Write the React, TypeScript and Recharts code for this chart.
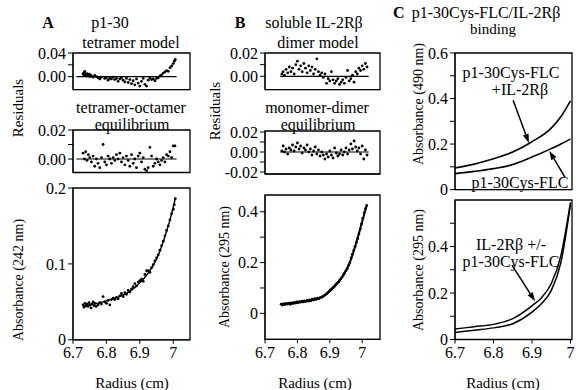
import { ComposedChart, Scatter, Line, XAxis, YAxis, ReferenceArea, ReferenceLine } from "recharts"

const FONT = "Liberation Serif"

type Pt = [number, number]

const radiusTicks = [6.7, 6.8, 6.9, 7]

// panel A: p1-30
const aTetramerResid: Pt[] = [
  [6.73, 0.005], [6.732, 0.003], [6.734, 0.006], [6.735, 0.009], [6.736, 0.002], [6.738, 0.004], [6.74, 0.001],
  [6.742, 0.005], [6.744, 0.003], [6.746, 0.002], [6.748, 0.004], [6.75, 0.0], [6.752, 0.003], [6.755, 0.001],
  [6.76, -0.001], [6.765, 0.002], [6.77, 0.0], [6.775, -0.002], [6.78, -0.004], [6.785, -0.001], [6.795, -0.003],
  [6.8, -0.002], [6.805, -0.006], [6.81, -0.003], [6.815, -0.004], [6.82, -0.001], [6.825, -0.005], [6.83, -0.003],
  [6.835, -0.008], [6.84, -0.004], [6.845, -0.002], [6.85, -0.006], [6.855, -0.009], [6.86, -0.003], [6.865, -0.01],
  [6.87, -0.005], [6.875, -0.012], [6.88, -0.007], [6.885, -0.014], [6.89, -0.004], [6.895, -0.011], [6.9, -0.016],
  [6.905, -0.008], [6.91, -0.003], [6.915, -0.013], [6.92, -0.016], [6.925, -0.006], [6.93, -0.002], [6.935, -0.005],
  [6.94, -0.004], [6.945, -0.007], [6.95, -0.003], [6.955, -0.002], [6.96, 0.001], [6.965, 0.003], [6.97, 0.006],
  [6.975, 0.008], [6.98, 0.01], [6.985, 0.009], [6.99, 0.015], [6.995, 0.018], [7.0, 0.022], [7.003, 0.026], [7.006, 0.029],
]
const aOctamerResid: Pt[] = [
  [6.73, 0.004], [6.734, 0.0], [6.738, 0.005], [6.742, -0.001], [6.746, 0.003], [6.75, 0.001], [6.755, -0.002],
  [6.76, 0.002], [6.765, -0.005], [6.77, 0.0], [6.775, -0.003], [6.78, -0.006], [6.785, 0.001], [6.79, 0.01],
  [6.795, -0.002], [6.8, -0.004], [6.805, 0.002], [6.81, 0.0], [6.815, -0.003], [6.82, 0.001], [6.825, -0.001],
  [6.83, 0.003], [6.835, 0.0], [6.84, 0.004], [6.845, -0.002], [6.85, 0.001], [6.855, -0.004], [6.86, 0.002],
  [6.865, -0.001], [6.87, -0.005], [6.875, 0.003], [6.88, -0.003], [6.885, 0.0], [6.89, -0.006], [6.895, 0.002],
  [6.9, 0.004], [6.905, -0.002], [6.91, 0.001], [6.915, -0.007], [6.92, -0.008], [6.925, -0.006], [6.93, 0.008],
  [6.935, 0.002], [6.94, -0.005], [6.945, -0.003], [6.95, 0.0], [6.955, -0.002], [6.96, -0.004], [6.965, -0.001],
  [6.97, 0.001], [6.975, -0.002], [6.98, 0.003], [6.985, 0.002], [6.99, 0.005], [6.995, 0.001], [7.0, 0.009], [7.005, 0.009],
]
const aAbsorbance: Pt[] = [
  [6.73, 0.046], [6.733, 0.043], [6.736, 0.048], [6.739, 0.045], [6.742, 0.047], [6.745, 0.044], [6.748, 0.049],
  [6.751, 0.046], [6.754, 0.042], [6.757, 0.047], [6.76, 0.05], [6.763, 0.045], [6.766, 0.048], [6.769, 0.044],
  [6.775, 0.046], [6.78, 0.049], [6.785, 0.047], [6.79, 0.057], [6.795, 0.05], [6.8, 0.048], [6.805, 0.052],
  [6.81, 0.046], [6.815, 0.053], [6.82, 0.055], [6.825, 0.053], [6.83, 0.056], [6.835, 0.054], [6.84, 0.058],
  [6.845, 0.061], [6.85, 0.057], [6.855, 0.062], [6.86, 0.06], [6.865, 0.065], [6.87, 0.063], [6.875, 0.067],
  [6.88, 0.07], [6.885, 0.074], [6.89, 0.071], [6.895, 0.076], [6.9, 0.078], [6.905, 0.08], [6.91, 0.077],
  [6.915, 0.086], [6.92, 0.091], [6.925, 0.091], [6.93, 0.089], [6.935, 0.095], [6.94, 0.099], [6.945, 0.104],
  [6.95, 0.108], [6.955, 0.112], [6.96, 0.118], [6.965, 0.124], [6.97, 0.13], [6.975, 0.137], [6.98, 0.144],
  [6.985, 0.15], [6.99, 0.158], [6.995, 0.166], [7.0, 0.172], [7.003, 0.178], [7.006, 0.186],
]
const aFit: Pt[] = [
  [6.73, 0.045], [6.76, 0.047], [6.79, 0.05], [6.82, 0.054], [6.85, 0.059], [6.88, 0.067], [6.9, 0.075],
  [6.92, 0.085], [6.94, 0.098], [6.96, 0.117], [6.98, 0.143], [6.99, 0.158], [7.0, 0.175], [7.006, 0.186],
]

// panel B: soluble IL-2Rβ
const bDimerResid: Pt[] = [
  [6.752, 0.002], [6.756, 0.004], [6.76, 0.001], [6.765, 0.006], [6.77, 0.003], [6.775, 0.008], [6.78, 0.004],
  [6.785, 0.007], [6.79, 0.002], [6.795, 0.01], [6.8, 0.013], [6.805, 0.006], [6.81, 0.009], [6.815, 0.004],
  [6.82, 0.011], [6.825, 0.007], [6.83, 0.003], [6.835, 0.009], [6.84, 0.005], [6.845, 0.008], [6.85, 0.002],
  [6.855, 0.006], [6.86, 0.015], [6.865, 0.004], [6.87, 0.001], [6.875, 0.003], [6.88, -0.001], [6.885, 0.002],
  [6.89, -0.006], [6.895, -0.002], [6.9, -0.004], [6.905, 0.004], [6.91, -0.003], [6.915, -0.006], [6.92, -0.004],
  [6.925, -0.002], [6.93, -0.007], [6.935, -0.005], [6.94, -0.003], [6.945, -0.006], [6.95, -0.001], [6.955, 0.005],
  [6.96, -0.004], [6.965, -0.002], [6.97, 0.001], [6.975, -0.005], [6.98, 0.004], [6.985, 0.002], [6.99, 0.007],
  [6.995, 0.005], [7.0, 0.009], [7.005, 0.006], [7.01, 0.011], [7.015, 0.008],
]
const bMonomerResid: Pt[] = [
  [6.752, 0.001], [6.756, 0.006], [6.76, 0.0], [6.765, 0.003], [6.77, -0.002], [6.775, 0.004], [6.78, 0.002],
  [6.785, 0.007], [6.79, 0.001], [6.795, 0.005], [6.8, 0.009], [6.805, 0.003], [6.81, 0.006], [6.815, -0.001],
  [6.82, 0.004], [6.825, 0.002], [6.83, 0.007], [6.835, 0.0], [6.84, 0.003], [6.845, -0.003], [6.85, 0.001],
  [6.855, 0.005], [6.86, -0.002], [6.865, 0.002], [6.87, -0.004], [6.875, 0.0], [6.88, -0.003], [6.885, -0.007],
  [6.89, -0.002], [6.895, -0.005], [6.9, 0.001], [6.905, -0.003], [6.91, -0.006], [6.915, 0.004], [6.92, -0.001],
  [6.925, -0.004], [6.93, -0.002], [6.935, 0.002], [6.94, -0.003], [6.945, 0.0], [6.95, 0.004], [6.955, -0.002],
  [6.96, 0.002], [6.965, 0.008], [6.97, 0.003], [6.975, 0.011], [6.98, 0.005], [6.985, 0.001], [6.99, 0.004],
  [6.995, -0.002], [7.0, 0.006], [7.005, -0.007], [7.01, 0.002], [7.015, -0.003],
]
const bAbsorbance: Pt[] = [
  [6.75, 0.036], [6.754, 0.033], [6.758, 0.038], [6.762, 0.035], [6.766, 0.039], [6.77, 0.037], [6.774, 0.04],
  [6.778, 0.036], [6.782, 0.041], [6.786, 0.039], [6.79, 0.043], [6.794, 0.04], [6.798, 0.045], [6.802, 0.042],
  [6.806, 0.046], [6.81, 0.044], [6.814, 0.048], [6.818, 0.045], [6.822, 0.049], [6.826, 0.047], [6.83, 0.051],
  [6.834, 0.048], [6.838, 0.053], [6.842, 0.05], [6.846, 0.056], [6.85, 0.053], [6.854, 0.058], [6.858, 0.055],
  [6.862, 0.06], [6.866, 0.058], [6.87, 0.062], [6.874, 0.063], [6.878, 0.066], [6.882, 0.069], [6.886, 0.073],
  [6.89, 0.077], [6.894, 0.082], [6.898, 0.087], [6.902, 0.092], [6.906, 0.096], [6.91, 0.101], [6.914, 0.106],
  [6.918, 0.112], [6.922, 0.118], [6.926, 0.123], [6.93, 0.129], [6.934, 0.136], [6.938, 0.143], [6.942, 0.151],
  [6.946, 0.159], [6.95, 0.168], [6.954, 0.177], [6.958, 0.188], [6.962, 0.2], [6.966, 0.218], [6.97, 0.233],
  [6.974, 0.248], [6.978, 0.263], [6.982, 0.279], [6.986, 0.294], [6.99, 0.312], [6.994, 0.332], [6.998, 0.352],
  [7.002, 0.374], [7.006, 0.396], [7.01, 0.412], [7.014, 0.425],
]
const bFit: Pt[] = [
  [6.75, 0.035], [6.78, 0.039], [6.8, 0.043], [6.83, 0.049], [6.85, 0.054], [6.87, 0.061], [6.89, 0.076],
  [6.9, 0.087], [6.92, 0.114], [6.94, 0.147], [6.96, 0.195], [6.98, 0.27], [7.0, 0.362], [7.014, 0.425],
]

// panel C: p1-30Cys-FLC / IL-2Rβ binding
const cBound490: Pt[] = [
  [6.7, 0.095], [6.75, 0.112], [6.8, 0.135], [6.85, 0.165], [6.9, 0.21], [6.95, 0.27], [6.975, 0.32], [7.0, 0.39],
]
const cFree490: Pt[] = [
  [6.7, 0.07], [6.75, 0.08], [6.8, 0.092], [6.85, 0.11], [6.9, 0.143], [6.95, 0.18], [6.975, 0.2], [7.0, 0.222],
]
const cWith295: Pt[] = [
  [6.7, 0.045], [6.75, 0.055], [6.8, 0.065], [6.85, 0.09], [6.9, 0.145], [6.925, 0.18], [6.95, 0.24], [6.975, 0.36], [7.0, 0.59],
]
const cWithout295: Pt[] = [
  [6.7, 0.03], [6.75, 0.04], [6.8, 0.05], [6.85, 0.068], [6.9, 0.118], [6.925, 0.155], [6.95, 0.21], [6.975, 0.33], [7.0, 0.58],
]

const rows = (pts: Pt[]) => pts.map(([x, y]) => ({ x, y }))

function Dot(props: any) {
  if (props.cx == null) return null
  return <circle cx={props.cx} cy={props.cy} r={1.4} fill="#000" />
}

function Arrow(props: any) {
  const { x1, y1, x2, y2 } = props
  const a = Math.atan2(y2 - y1, x2 - x1)
  const bx = x2 - 9 * Math.cos(a)
  const by = y2 - 9 * Math.sin(a)
  const s = Math.sin(a) * 3
  const c = Math.cos(a) * 3
  return (
    <g>
      <line x1={x1} y1={y1} x2={bx} y2={by} stroke="#000" strokeWidth={1.5} />
      <polygon points={`${x2},${y2} ${bx + s},${by - c} ${bx - s},${by + c}`} fill="#000" />
    </g>
  )
}

const tickStyle = { fontSize: 16, fill: "#000", fontFamily: FONT }

function Panel({ box, xDomain, yDomain, yTicks, yLabels, xLabels, children }: any) {
  const ML = 50
  const MT = 12
  const MR = 4
  const XH = 28
  const [left, top, w, h] = box
  return (
    <div style={{ position: "absolute", left: left - ML, top: top - MT }}>
      <ComposedChart width={ML + w + MR} height={MT + h + XH} margin={{ top: MT, right: MR, left: 0, bottom: 0 }}>
        <XAxis
          type="number"
          dataKey="x"
          domain={xDomain}
          ticks={radiusTicks}
          interval={0}
          allowDataOverflow
          height={XH}
          stroke="#000"
          tickSize={4}
          tickMargin={3}
          tick={xLabels ? tickStyle : false}
          tickFormatter={(v: number) => (v === 7 ? "7" : v.toFixed(1))}
        />
        <YAxis
          type="number"
          dataKey="y"
          domain={yDomain}
          ticks={yTicks}
          interval={0}
          allowDataOverflow
          width={ML}
          stroke="#000"
          tickSize={5}
          tickMargin={2}
          tick={tickStyle}
          tickFormatter={(v: number) => yLabels[String(v)] ?? ""}
        />
        <ReferenceArea
          x1={xDomain[0]}
          x2={xDomain[1]}
          y1={yDomain[0]}
          y2={yDomain[1]}
          fill="none"
          stroke="#000"
          strokeWidth={1.3}
          ifOverflow="visible"
        />
        {children}
      </ComposedChart>
    </div>
  )
}

function Label({ x, y, children, size = 16, bold = false, rotate = false, anchor = "middle" }: any) {
  return (
    <text
      x={x}
      y={y}
      fontSize={size}
      fontWeight={bold ? "bold" : "normal"}
      textAnchor={anchor}
      dominantBaseline="central"
      fontFamily={FONT}
      transform={rotate ? `rotate(-90 ${x} ${y})` : undefined}
    >
      {children}
    </text>
  )
}

const zeroSeg = (a: number, b: number) => [{ x: a, y: 0 }, { x: b, y: 0 }]

export default function App() {
  const xA = [6.7, 7.05]
  const xB = [6.7, 7.055]
  const xC = [6.7, 7.004]
  return (
    <div style={{ position: "absolute", left: 0, top: 0, width: 576, height: 390, background: "#fff", fontFamily: FONT }}>
      {/* A */}
      <Panel box={[73, 52.7, 117, 36.6]} xDomain={xA} yDomain={[-0.022, 0.04]} yTicks={[0, 0.02, 0.04]} yLabels={{ "0": "0.00", "0.04": "0.04" }}>
        <ReferenceLine segment={zeroSeg(6.71, 7.01)} stroke="#000" strokeWidth={1.2} />
        <Scatter data={rows(aTetramerResid)} shape={Dot} isAnimationActive={false} />
      </Panel>
      <Panel box={[73, 129.5, 117, 42.5]} xDomain={xA} yDomain={[-0.0093, 0.02]} yTicks={[0, 0.01, 0.02]} yLabels={{ "0": "0.00", "0.02": "0.02" }}>
        <ReferenceLine segment={zeroSeg(6.71, 7.01)} stroke="#000" strokeWidth={1.2} />
        <Scatter data={rows(aOctamerResid)} shape={Dot} isAnimationActive={false} />
      </Panel>
      <Panel box={[73, 187.5, 117, 151.8]} xDomain={xA} yDomain={[0, 0.2]} yTicks={[0, 0.1, 0.2]} yLabels={{ "0": "0", "0.1": "0.1", "0.2": "0.2" }} xLabels>
        <Scatter data={rows(aAbsorbance)} shape={Dot} isAnimationActive={false} />
        <Line data={rows(aFit)} dataKey="y" type="monotone" stroke="#000" strokeWidth={1.4} dot={false} isAnimationActive={false} />
      </Panel>

      {/* B */}
      <Panel box={[265, 52.7, 115, 36.6]} xDomain={xB} yDomain={[-0.0114, 0.02]} yTicks={[0, 0.01, 0.02]} yLabels={{ "0": "0.00", "0.02": "0.02" }}>
        <ReferenceLine segment={zeroSeg(6.747, 7.02)} stroke="#000" strokeWidth={1.2} />
        <Scatter data={rows(bDimerResid)} shape={Dot} isAnimationActive={false} />
      </Panel>
      <Panel box={[265, 131, 115, 43]} xDomain={xB} yDomain={[-0.022, 0.021]} yTicks={[-0.02, -0.01, 0, 0.01, 0.02]} yLabels={{ "-0.02": "-0.02", "0": "0.00", "0.02": "0.02" }}>
        <ReferenceLine segment={zeroSeg(6.747, 7.02)} stroke="#000" strokeWidth={1.2} />
        <Scatter data={rows(bMonomerResid)} shape={Dot} isAnimationActive={false} />
      </Panel>
      <Panel box={[265, 195, 115, 144.3]} xDomain={xB} yDomain={[-0.102, 0.466]} yTicks={[0, 0.1, 0.2, 0.3, 0.4]} yLabels={{ "0": "0", "0.2": "0.2", "0.4": "0.4" }} xLabels>
        <Scatter data={rows(bAbsorbance)} shape={Dot} isAnimationActive={false} />
        <Line data={rows(bFit)} dataKey="y" type="monotone" stroke="#000" strokeWidth={2} dot={false} isAnimationActive={false} />
      </Panel>

      {/* C */}
      <Panel box={[455, 52.7, 117, 136.6]} xDomain={xC} yDomain={[0, 0.6]} yTicks={[0, 0.1, 0.2, 0.3, 0.4, 0.5, 0.6]} yLabels={{ "0": "0", "0.2": "0.2", "0.4": "0.4", "0.6": "0.6" }}>
        <Line data={rows(cBound490)} dataKey="y" type="monotone" stroke="#000" strokeWidth={1.6} dot={false} isAnimationActive={false} />
        <Line data={rows(cFree490)} dataKey="y" type="monotone" stroke="#000" strokeWidth={1.6} dot={false} isAnimationActive={false} />
        <ReferenceLine segment={[{ x: 6.851, y: 0.392 }, { x: 6.892, y: 0.205 }]} shape={Arrow} />
        <ReferenceLine segment={[{ x: 6.986, y: 0.054 }, { x: 6.945, y: 0.17 }]} shape={Arrow} />
      </Panel>
      <Panel box={[455, 200, 117, 139.5]} xDomain={xC} yDomain={[0, 0.6]} yTicks={[0, 0.1, 0.2, 0.3, 0.4, 0.5]} yLabels={{ "0": "0", "0.2": "0.2", "0.4": "0.4" }} xLabels>
        <Line data={rows(cWith295)} dataKey="y" type="monotone" stroke="#000" strokeWidth={1.5} dot={false} isAnimationActive={false} />
        <Line data={rows(cWithout295)} dataKey="y" type="monotone" stroke="#000" strokeWidth={1.5} dot={false} isAnimationActive={false} />
        <ReferenceLine segment={[{ x: 6.848, y: 0.32 }, { x: 6.908, y: 0.165 }]} shape={Arrow} />
      </Panel>

      <svg width={576} height={390} style={{ position: "absolute", left: 0, top: 0, pointerEvents: "none" }}>
        <Label x={48} y={22} bold>A</Label>
        <Label x={110} y={22}>p1-30</Label>
        <Label x={131} y={42}>tetramer model</Label>
        <Label x={131} y={107}>tetramer-octamer</Label>
        <Label x={132} y={124}>equilibrium</Label>
        <Label x={18} y={108} size={15} rotate>Residuals</Label>
        <Label x={18} y={280} size={14} rotate>Absorbance (242 nm)</Label>
        <Label x={132} y={383} size={15}>Radius (cm)</Label>

        <Label x={240} y={22} bold>B</Label>
        <Label x={314} y={22}>soluble IL-2Rβ</Label>
        <Label x={318} y={42}>dimer model</Label>
        <Label x={317} y={107}>monomer-dimer</Label>
        <Label x={318} y={124}>equilibrium</Label>
        <Label x={215} y={111} size={15} rotate>Residuals</Label>
        <Label x={224} y={267} size={14} rotate>Absorbance (295 nm)</Label>
        <Label x={315} y={383} size={15}>Radius (cm)</Label>

        <Label x={393} y={12} bold anchor="start">C</Label>
        <Label x={486} y={12}>p1-30Cys-FLC/IL-2Rβ</Label>
        <Label x={493} y={29} size={15}>binding</Label>
        <Label x={418} y={104} size={14} rotate>Absorbance (490 nm)</Label>
        <Label x={418} y={270} size={14} rotate>Absorbance (295 nm)</Label>
        <Label x={503} y={383} size={15}>Radius (cm)</Label>
        <Label x={511} y={72}>p1-30Cys-FLC</Label>
        <Label x={520} y={89}>+IL-2Rβ</Label>
        <Label x={520} y={182}>p1-30Cys-FLC</Label>
        <Label x={511} y={244}>IL-2Rβ +/-</Label>
        <Label x={511} y={261}>p1-30Cys-FLC</Label>
      </svg>
    </div>
  )
}
